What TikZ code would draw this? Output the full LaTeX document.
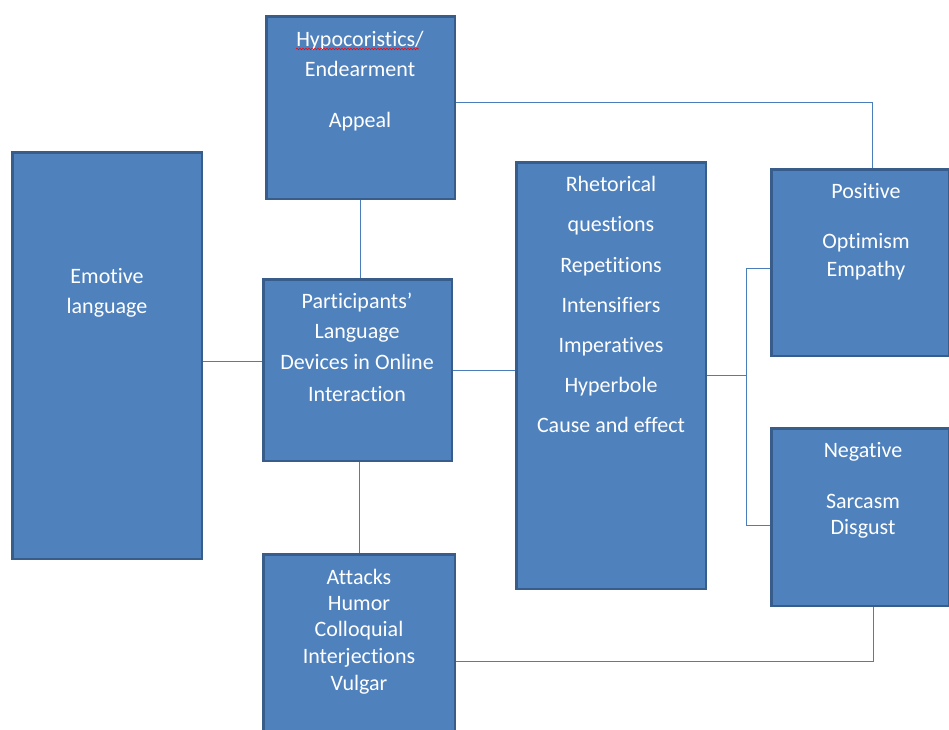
\documentclass[tikz,border=0pt]{standalone}
\usepackage{fontspec}
\setmainfont{Carlito}[Ligatures={NoCommon}]
\usetikzlibrary{decorations.pathmorphing}
\definecolor{boxfill}{RGB}{79,129,189}
\definecolor{boxline}{RGB}{56,93,138}
\definecolor{linkcol}{RGB}{74,126,187}

\begin{document}
\begin{tikzpicture}
      [   x=1pt,y=-1pt,
          box/.style={draw=boxline,fill=boxfill,line width=2.5pt,inner sep=0pt},
          txt/.style={text=white,inner sep=0pt,anchor=base,font=\fontsize{22}{26}\selectfont},
          link/.style={draw=linkcol,line width=1pt},
          spell/.style={draw=red,line width=0.6pt,decorate,decoration={snake,amplitude=0.8pt,segment length=3pt}},
      ]
          \useasboundingbox (0,0) rectangle (949,729);
          \clip (0,0) rectangle (949,729);
          % boxes
          \node[box,minimum width=189.5pt,minimum height=406.5pt] (emo) at (107,355.5) {};
          \node[box,minimum width=188.5pt,minimum height=182.5pt] (hypo) at (360.5,107.5) {};
          \node[box,minimum width=188.5pt,minimum height=181.5pt] (part) at (357.5,370) {};
          \node[box,minimum width=191.5pt,minimum height=184.5pt] (att) at (359,646.5) {};
          \node[box,minimum width=189.5pt,minimum height=426.5pt] (rhet) at (611,375.5) {};
          \node[box,minimum width=177.5pt,minimum height=186.5pt] (pos) at (860,262.5) {};
          \node[box,minimum width=177.5pt,minimum height=177.5pt] (neg) at (860,517) {};
          % texts
          \foreach \t/\y [count=\i] in {Emotive/276,language/306}
              \node[txt] (emo-\i) at (107,{\y+7}) {\t};
          \foreach \t/\y [count=\i] in {{Hypocoristics/}/39,Endearment/69,Appeal/120}
              \node[txt] (hypo-\i) at (360,{\y+7}) {\t};
          \foreach \t/\y [count=\i] in {Participants’/301,Language/331,Devices in Online/362,Interaction/394}
              \node[txt] (part-\i) at (357,{\y+7}) {\t};
          \foreach \t/\y [count=\i] in {Attacks/577,Humor/603,Colloquial/629,Interjections/656,Vulgar/683}
              \node[txt] (att-\i) at (359,{\y+7}) {\t};
          \foreach \t/\y [count=\i] in {Rhetorical/184,questions/224,Repetitions/265,Intensifiers/305,Imperatives/345,Hyperbole/385,Cause and effect/425}
              \node[txt] (rhet-\i) at (611,{\y+7}) {\t};
          \foreach \t/\y [count=\i] in {Positive/191,Optimism/241,Empathy/269}
              \node[txt] (pos-\i) at (866,{\y+7}) {\t};
          \foreach \t/\y [count=\i] in {Negative/450,Sarcasm/501,Disgust/527}
              \node[txt] (neg-\i) at (863,{\y+7}) {\t};
          \draw[spell] ([yshift=-3pt]hypo-1.base west) -- ([yshift=-3pt,xshift=-5pt]hypo-1.base east);
          % connectors
          \draw[link] ([yshift=9pt]part.west) -- ([yshift=9pt]part.west -| emo.east);
          \draw[link] (hypo.south) -- (hypo.south |- part.north);
          \draw[link] (att.north) -- (att.north |- part.south);
          \draw[link] (part.east) -- (part.east -| rhet.west);
          \draw[link] ([yshift=5pt]hypo.east) -| ([xshift=12pt]pos.north);
          \coordinate (split) at ([xshift=39pt]rhet.east);
          \draw[link] (rhet.east) -- (split);
          \draw[link] ([yshift=-5.5pt]pos.west) -| (split) |- ([yshift=-8pt]neg.west);
          \draw[link] ([yshift=-14.5pt]att.east) -| ([xshift=13pt]neg.south);
    \end{tikzpicture}
\end{document}
